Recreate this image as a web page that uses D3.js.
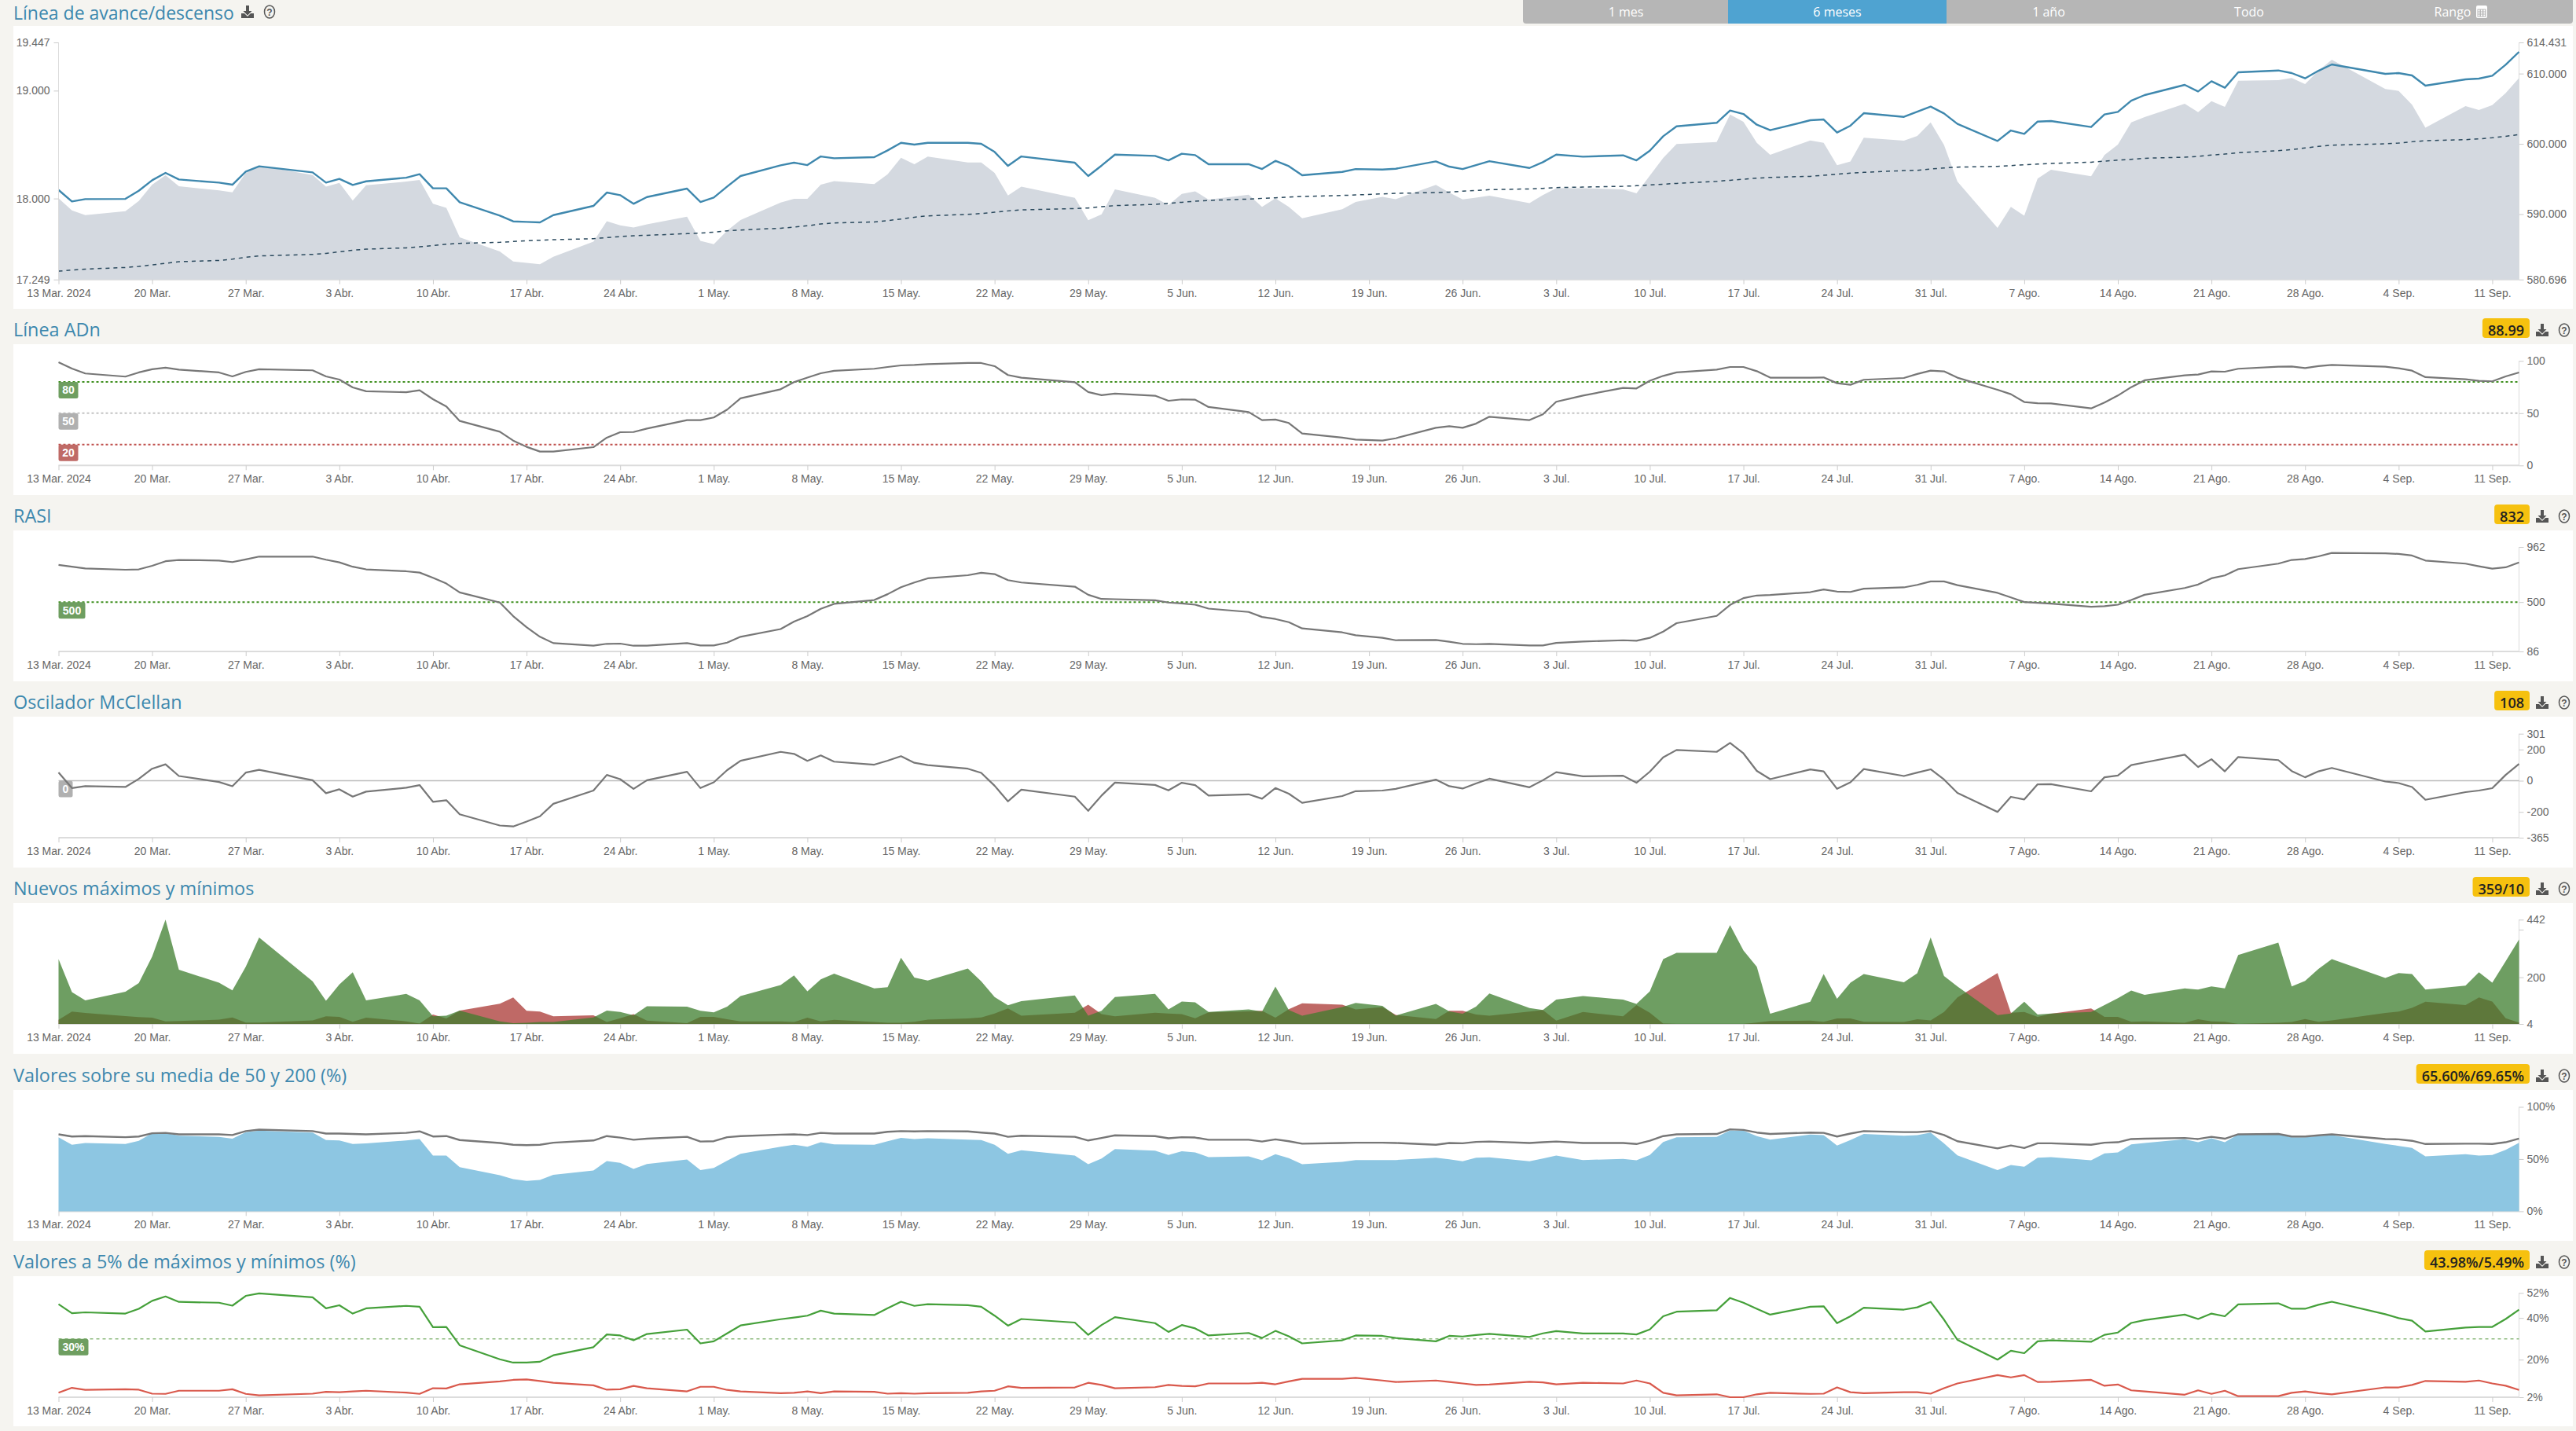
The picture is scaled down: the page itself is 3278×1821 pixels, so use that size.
<!DOCTYPE html>
<html><head><meta charset="utf-8"><title>Amplitud de mercado</title>
<script src="https://cdn.jsdelivr.net/npm/d3@7"></script>
<style>
html,body{margin:0;padding:0;background:#f5f4f0;overflow:hidden}
svg{display:block}
text{font-family:"Liberation Sans",Arial,sans-serif}
.title{font-family:"Open Sans",sans-serif;font-size:23.4px;fill:#3d88ae}
.tick text{font-size:14px;fill:#666}
.badge{font-family:"Open Sans",sans-serif;font-size:18px;font-weight:600;fill:#222}
.tag{font-size:14px;font-weight:700;fill:#fff}
.range{font-family:"Open Sans",sans-serif;font-size:16px;fill:#fff}
</style></head><body><div id="chart"></div>
<script>
const tradingDays = ["03-13","03-14","03-15","03-18","03-19","03-20","03-21","03-22","03-25","03-26","03-27","03-28",
"04-01","04-02","04-03","04-04","04-05","04-08","04-09","04-10","04-11","04-12","04-15","04-16","04-17","04-18","04-19","04-22","04-23","04-24","04-25","04-26","04-29","04-30",
"05-01","05-02","05-03","05-06","05-07","05-08","05-09","05-10","05-13","05-14","05-15","05-16","05-17","05-20","05-21","05-22","05-23","05-24","05-28","05-29","05-30","05-31",
"06-03","06-04","06-05","06-06","06-07","06-10","06-11","06-12","06-13","06-14","06-17","06-18","06-20","06-21","06-24","06-25","06-26","06-27","06-28",
"07-01","07-02","07-03","07-05","07-08","07-09","07-10","07-11","07-12","07-15","07-16","07-17","07-18","07-19","07-22","07-23","07-24","07-25","07-26","07-29","07-30","07-31",
"08-01","08-02","08-05","08-06","08-07","08-08","08-09","08-12","08-13","08-14","08-15","08-16","08-19","08-20","08-21","08-22","08-23","08-26","08-27","08-28","08-29","08-30",
"09-03","09-04","09-05","09-06","09-09","09-10","09-11","09-12","09-13"];

// Línea de avance/descenso (thousands, right axis)
const adLine = [593.44,591.80,592.14,592.17,593.33,594.82,595.87,594.93,594.49,594.19,596.05,596.80,
595.94,594.49,595.01,594.15,594.67,595.19,595.68,593.67,593.67,591.69,589.79,588.97,588.89,588.82,589.86,591.17,593.07,592.70,591.47,592.43,593.63,591.73,
592.36,593.93,595.42,596.95,597.32,596.98,598.21,597.95,598.10,599.07,600.15,599.89,600.15,600.15,600.00,598.85,596.87,598.21,597.32,595.42,596.91,598.47,
598.29,597.65,598.59,598.40,597.10,597.10,596.42,597.58,596.83,595.53,596.01,596.42,596.35,596.46,597.51,596.76,596.42,596.98,597.54,
596.57,597.39,598.47,598.18,598.36,597.65,599.03,601.08,602.50,602.99,604.74,604.25,602.72,601.94,603.36,603.47,601.61,602.58,604.36,603.84,604.59,605.30,
604.33,602.84,600.41,601.90,601.42,603.17,603.25,602.39,604.18,604.55,606.15,606.94,608.39,607.46,608.91,607.98,610.18,610.44,610.07,609.32,610.40,611.30,
609.96,610.07,609.73,608.28,609.17,609.29,609.70,611.26,613.09];
const adAverage = [581.89,582.04,582.18,582.41,582.56,582.78,583.00,583.23,583.41,583.60,583.86,584.05,
584.27,584.42,584.64,584.87,585.02,585.20,585.35,585.54,585.73,585.84,585.99,586.10,586.21,586.29,586.36,586.51,586.66,586.81,586.92,586.99,587.22,587.29,
587.44,587.63,587.74,588.00,588.15,588.34,588.60,588.74,588.89,589.08,589.30,589.56,589.75,589.97,590.09,590.27,590.46,590.61,590.79,590.87,591.06,591.21,
591.39,591.54,591.69,591.84,591.95,592.14,592.25,592.32,592.43,592.51,592.66,592.73,592.88,592.96,593.07,593.14,593.26,593.37,593.48,
593.59,593.67,593.78,593.85,593.96,594.04,594.15,594.26,594.37,594.67,594.82,594.97,595.12,595.23,595.38,595.53,595.68,595.83,595.94,596.20,596.24,596.42,
596.57,596.69,596.80,596.91,597.02,597.13,597.21,597.39,597.54,597.69,597.80,597.95,598.10,598.21,598.40,598.55,598.74,599.03,599.18,599.41,599.63,599.82,
600.00,600.11,600.30,600.45,600.60,600.71,600.86,601.08,601.31];
// Índice (left axis)
const indexArea = [18002,17890,17846,17883,17977,18128,18215,18113,18075,18058,18237,18305,
18218,18111,18145,17980,18123,18157,18172,17951,17914,17640,17509,17416,17404,17390,17460,17601,17790,17752,17732,17761,17832,17608,
17577,17703,17800,17963,17997,17997,18128,18162,18133,18225,18378,18318,18388,18335,18335,18237,18028,18111,18007,17798,17854,18084,
18007,17939,18043,18067,17990,18036,17922,18002,17922,17817,17900,17968,18016,17994,18126,18055,17992,18009,18026,
17958,18031,18096,18096,18084,18048,18213,18376,18505,18524,18779,18711,18517,18405,18539,18517,18308,18344,18563,18536,18580,18706,
18497,18157,17727,17922,17841,18184,18266,18206,18403,18500,18706,18755,18879,18801,18903,18850,19092,19097,19117,19061,19185,19287,
19015,18998,18869,18657,18857,18820,18866,18978,19117];

const adnLine = [98.7,92.7,88,85,89,92,93.5,91.7,89,85.2,89.5,92,
91,85.2,82.2,74.7,71,70,72,63.4,56.4,42.6,32.3,23.8,17.8,13.3,13.3,17.5,26.6,31.8,32,35.3,43.4,43.4,
45.9,53.4,64.2,72.9,79.7,84,88.2,90.5,92.5,94.2,95.7,96.2,97,98,98,95,86.5,84,79.7,70.2,67.2,68.7,
66.7,61.9,63.2,62.9,55.9,51.1,43.4,43.9,40.6,30.6,26.6,24.8,23.8,26,36,37.6,36,40,46.6,
43.4,48.9,60.9,66.9,74.2,73.7,81,85.7,89,91.7,94.2,94.2,90.2,84,84,84.2,78.7,77.2,82,83.7,87.5,90.7,
90,84,72.4,68.2,60.7,59.6,59.4,54.6,60.2,66.9,74.9,81.5,86.2,87,90,89.7,92.5,94.5,94.7,93.2,95,96.2,
94.5,93,90.7,84.5,82.5,81,80.5,85.2,88.99];

const rasiLine = [811,796,782,771,774,804,842,853,848,835,857,881,
881,855,833,796,774,758,747,704,655,581,496,382,290,209,156,134,150,152,134,134,156,136,
136,160,209,274,336,382,443,485,517,566,625,664,699,725,745,734,684,664,629,561,526,524,
515,496,489,478,445,417,375,358,331,279,246,222,200,180,182,167,150,147,150,
136,136,158,169,180,176,200,252,323,384,476,533,555,559,583,605,588,585,612,623,644,673,
673,642,577,539,500,493,487,460,465,478,517,561,618,647,699,723,776,822,853,861,883,912,
909,903,890,848,822,800,780,791,832];

const mcclellanLine = [53,-47,-35,-40,12,77,105,30,-8,-35,52,70,
3,-80,-55,-102,-70,-45,-28,-135,-125,-215,-287,-293,-262,-228,-148,-63,37,10,-52,3,57,-47,
-10,68,128,185,172,127,162,122,103,128,157,115,100,77,50,-32,-132,-57,-102,-193,-95,-12,
-27,-62,-13,-28,-95,-87,-115,-47,-83,-142,-98,-67,-63,-52,7,-35,-50,-18,13,
-42,3,55,28,32,-13,58,150,197,185,242,175,63,10,72,60,-52,-10,75,30,52,73,
8,-78,-200,-103,-120,-23,-22,-68,22,33,100,117,167,88,138,60,152,132,62,22,60,82,
-5,-15,-40,-122,-73,-63,-48,37,108];

const newHighs = [276,138,103,139,176,287,442,232,177,145,244,367,
183,101,170,221,103,130,103,36,39,60,15,7,9,12,12,31,60,54,40,78,77,59,
53,77,121,167,208,141,191,215,153,158,282,199,186,237,183,117,82,100,124,39,59,117,
130,65,98,95,54,65,56,161,63,39,75,92,80,39,88,57,47,77,132,
71,63,106,121,106,88,141,276,303,303,419,313,244,47,97,214,110,177,214,179,217,367,
205,162,41,48,97,44,48,54,83,112,144,126,153,148,162,153,294,346,162,185,235,276,
197,218,214,148,165,221,177,267,359];
const newLows = [21,56,50,37,33,30,15,16,22,31,10,10,
19,36,34,13,30,15,6,44,27,60,89,115,59,56,36,40,12,28,45,18,7,34,
34,24,15,15,12,30,15,21,12,9,9,13,22,27,31,48,69,39,51,85,45,36,
51,48,45,28,53,57,59,30,66,91,85,65,75,42,25,59,59,44,39,
56,63,18,54,36,83,51,6,4,4,4,4,10,16,18,13,27,27,13,12,24,19,
54,115,218,51,54,34,47,69,34,34,13,15,9,24,15,13,4,9,12,25,13,19,
50,56,72,97,83,115,98,28,10];

const above200 = [73.7,71.6,72.0,70.9,71.6,74.7,75.1,73.7,73.7,73.0,76.8,78.2,
76.8,74.4,74.4,74.0,73.7,75.1,76.5,71.6,72.0,68.2,65.4,63.7,63.3,63.7,65.7,67.8,72.0,70.6,68.5,69.5,71.3,66.8,
67.1,70.9,72.0,73.4,73.7,73.0,75.1,74.4,74.4,76.1,76.8,76.5,76.8,76.5,75.4,74.4,71.3,72.3,71.3,67.8,70.2,72.7,
72.0,69.9,70.9,70.6,68.5,68.5,66.8,68.9,67.1,64.7,65.4,65.7,65.7,65.4,63.7,65.4,65.1,66.4,66.8,
65.4,66.1,66.8,65.4,65.4,64.4,67.5,72.0,73.7,74.0,78.5,77.9,75.4,74.0,75.4,75.1,71.6,74.4,76.8,75.8,75.8,76.8,
73.0,67.1,60.2,63.0,60.6,65.1,65.1,63.7,65.7,66.1,69.2,69.5,70.2,69.2,71.3,69.5,73.7,74.0,71.6,71.6,72.7,73.7,
69.2,68.9,67.5,64.4,64.7,64.7,64.4,66.1,69.65];
const above50 = [70.9,63.7,65.4,64.4,67.5,74.7,75.1,72.3,71.3,69.5,75.8,77.2,
75.4,68.2,67.8,64.4,65.1,67.8,69.2,53.3,53.3,42.2,34.6,30.8,29.1,30.1,34.9,39.1,48.1,46.4,40.5,45.3,49.5,39.4,
41.5,48.4,55.0,61.9,63.7,61.9,66.1,64.0,63.7,67.1,70.2,69.2,69.9,68.5,68.2,63.7,55.0,58.5,53.3,45.0,50.5,59.5,
58.1,54.0,57.4,56.4,51.9,52.6,48.8,54.7,50.9,45.0,47.4,49.1,49.1,49.1,51.2,49.8,47.8,51.2,51.6,
47.8,50.5,53.3,49.1,50.2,48.8,54.0,66.4,70.9,71.3,77.5,77.2,72.0,68.5,73.4,73.0,63.0,68.2,74.0,72.3,73.0,75.4,
65.1,53.6,39.4,44.3,42.6,51.2,51.9,48.8,55.4,56.4,64.0,65.4,68.9,66.1,69.9,66.1,73.7,73.7,70.9,70.9,72.0,73.0,
64.4,62.6,60.6,52.6,54.7,53.3,54.0,58.8,65.60];

const nearHighs = [46.6,42.3,42.7,42.1,44.4,48.2,50.3,47.7,47.3,45.9,50.6,51.8,
49.9,44.6,46.1,42.1,44.6,45.8,45.4,35.6,35.7,26.9,20.2,18.6,18.6,19.0,22.1,26.0,32.1,31.6,29.3,32.3,34.4,27.8,
28.8,32.6,36.4,39.4,40.2,41.1,43.5,42.1,41.4,44.7,47.8,45.8,46.6,46.1,45.4,41.1,36.3,39.5,37.8,31.9,36.6,40.4,
37.5,33.3,36.6,35.0,31.6,32.8,30.4,33.8,31.2,27.8,29.3,31.6,31.4,30.4,28.8,31.4,31.1,31.8,32.4,
30.9,32.6,33.7,32.6,32.6,32.1,34.5,40.8,43.0,43.7,49.6,47.3,44.4,41.6,45.4,45.6,37.5,40.8,44.9,44.0,45.1,47.7,
39.2,29.5,20.0,24.3,23.1,28.8,29.3,28.6,31.9,33.0,37.6,39.0,41.6,39.5,42.1,40.8,46.5,47.0,44.4,44.4,46.3,47.8,
41.8,39.9,38.7,33.5,35.4,35.7,35.7,39.5,43.98];
const nearLows = [4.2,6.5,5.5,5.8,5.6,3.7,3.6,5.1,5.1,5.8,3.6,2.9,
3.7,4.6,4.4,4.8,5.1,4.2,3.6,6.3,6.2,8.2,9.6,10.3,10.5,9.8,8.9,7.7,5.6,5.8,7.4,6.3,4.8,7.0,
7.0,5.5,4.8,3.9,4.1,4.8,3.9,4.8,4.6,3.7,3.9,3.7,3.9,4.1,4.8,5.1,7.2,6.5,6.7,8.9,7.9,6.3,
6.8,7.9,7.4,7.2,8.6,8.6,8.9,8.2,9.6,10.8,10.8,11.3,10.0,9.3,10.0,9.3,8.6,7.9,8.1,
9.4,9.1,8.2,8.9,8.6,10.0,8.6,4.1,2.9,3.4,2,2,3.4,4.1,3.6,3.7,6.7,4.4,3.9,4.4,4.4,3.7,
6.3,8.6,12.6,11.5,12.6,9.3,9.4,10.3,7.5,8.1,5.3,4.8,3.2,5.3,3.6,5.1,2.5,2.5,4.1,4.8,3.9,3.4,
6.7,6.7,7.9,9.8,9.4,10.0,8.6,7.5,5.49];

const monthNames = ["Ene.","Feb.","Mar.","Abr.","May.","Jun.","Jul.","Ago.","Sep.","Oct.","Nov.","Dic."];
const rangeLabels = ["1 mes","6 meses","1 año","Todo","Rango"];
const titles = ["Línea de avance/descenso","Línea ADn","RASI","Oscilador McClellan","Nuevos máximos y mínimos","Valores sobre su media de 50 y 200 (%)","Valores a 5% de máximos y mínimos (%)"];
const badges = [null,"88.99","832","108","359/10","65.60%/69.65%","43.98%/5.49%"];

[adLine,adAverage,indexArea,adnLine,rasiLine,mcclellanLine,newHighs,newLows,above200,above50,nearHighs,nearLows].forEach((a,i)=>{
  if(a.length!==tradingDays.length) throw new Error("series "+i+" has "+a.length+" values, expected "+tradingDays.length);
});

const dates = tradingDays.map(s=>d3.utcParse("%Y-%m-%d")("2024-"+s));
const W=3278,H=1821;
const svg=d3.select("#chart").append("svg").attr("width",W).attr("height",H);
const X0=74.5,X1=3205.5;
const x=d3.scaleUtc().domain([dates[0],dates[dates.length-1]]).range([X0,X1]);
const xTicks=d3.utcDay.range(dates[0],dates[dates.length-1],7);
const fmtX=(d,i)=>d.getUTCDate()+" "+monthNames[d.getUTCMonth()]+(i===0?" 2024":"");

const PANEL_L=17,PANEL_R=3274;
const C_AXIS="#dcdcdc";

function helpIcon(g,cx,cy){
  g.append("ellipse").attr("cx",cx).attr("cy",cy).attr("rx",6.5).attr("ry",8).attr("fill","none").attr("stroke","#555").attr("stroke-width",1.5);
  g.append("text").attr("x",cx).attr("y",cy+4.5).attr("text-anchor","middle").attr("font-size",12).attr("font-weight",700).attr("fill","#555").text("?");
}
function dlIcon(g,cx,cy){
  g.append("path").attr("transform",`translate(${cx},${cy})`).attr("fill","#555")
   .attr("d","M-2,-8H2V-1H5.5L0,4.5L-5.5,-1H-2Z M-8,2H-4L0,6L4,2H8V8H-8Z");
}

function panel(cfg,i){
  const g=svg.append("g");
  g.append("rect").attr("x",PANEL_L).attr("y",cfg.top).attr("width",PANEL_R-PANEL_L).attr("height",cfg.h).attr("fill","#fff");
  const ty=cfg.top-18;
  const t=g.append("text").attr("class","title").attr("x",17).attr("y",ty+8).text(titles[i]);
  if(i===0){
    t.attr("y",24.8).style("font-size","23px");
    dlIcon(g,315,ty); helpIcon(g,343,ty);
  } else {
    dlIcon(g,3235,ty); helpIcon(g,3263,ty);
    const bt=g.append("text").attr("class","badge").attr("x",3212).attr("y",ty+6.5).attr("text-anchor","end").text(badges[i]);
    const bw=bt.node().getComputedTextLength();
    g.insert("rect","text.badge").attr("x",3219-bw-14).attr("y",cfg.top-33).attr("width",bw+14).attr("height",25).attr("rx",4).attr("fill","#f6c10f");
  }
  const y=d3.scaleLinear().domain(cfg.domain).range([cfg.base,cfg.ytop]);
  const xAxis=d3.axisBottom(x).tickValues(xTicks).tickFormat(fmtX).tickSize(6).tickPadding(6);
  const ax=g.append("g").attr("transform",`translate(0,${cfg.base})`).call(xAxis);
  ax.select(".domain").attr("stroke",C_AXIS).attr("stroke-width",2).attr("d",`M${X0},0H${X1}`);
  ax.selectAll(".tick line").attr("stroke","#ccc");
  const ay=g.append("g").attr("transform",`translate(${X1},0)`)
    .call(d3.axisRight(y).tickValues(cfg.ticks).tickFormat(cfg.fmt).tickSize(6).tickPadding(4));
  ay.select(".domain").attr("stroke",C_AXIS).attr("d",`M0,${cfg.ytop}V${cfg.base}`);
  ay.selectAll(".tick line").attr("stroke","#ccc");
  cfg.draw(g,y);
  return g;
}
const line=(y,v)=>d3.line().x((d,i)=>x(dates[i])).y(d=>y(d))(v);
const area=(y,v)=>d3.area().x((d,i)=>x(dates[i])).y0(y.range()[0]).y1(d=>y(d))(v);
function ref(g,y,val,color,dash,w){
  g.append("line").attr("x1",X0).attr("x2",X1).attr("y1",y(val)).attr("y2",y(val)).attr("stroke",color).attr("stroke-width",w||2).attr("stroke-dasharray",dash);
}
function tag(g,y,val,label,color,w){
  g.append("rect").attr("x",X0).attr("y",y(val)).attr("width",w).attr("height",21).attr("rx",2.5).attr("fill",color);
  g.append("text").attr("class","tag").attr("x",X0+w/2).attr("y",y(val)+15.5).attr("text-anchor","middle").text(label);
}
const path=(g,d,color,w,dash)=>g.append("path").attr("d",d).attr("fill","none").attr("stroke",color).attr("stroke-width",w).attr("stroke-linejoin","round").attr("stroke-dasharray",dash||null);
const GREEN="#6e9e60",RED="#bf6a66",GREY="#b0b0b0";

// Panel 1
const yLeft=d3.scaleLinear().domain([17249,19447]).range([355.7,54]);
const yRight=d3.scaleLinear().domain([580.696,614.431]).range([355.7,54]);
panel({top:33,h:360,base:355.7,ytop:54,domain:[580.696,614.431],ticks:[580.696,590,600,610,614.431],fmt:d3.format(".3f"),
 draw(g,y){
  g.append("path").attr("d",area(yLeft,indexArea)).attr("fill","#d4d9e0");
  path(g,line(yRight,adAverage),"#2b4a5e",1.5,"5,5");
  path(g,line(yRight,adLine),"#3f88ae",2.4);
  const l=g.append("g").attr("transform",`translate(${X0},0)`).call(d3.axisLeft(yLeft).tickValues([17249,18000,19000,19447]).tickFormat(d=>(d/1000).toFixed(3)).tickSize(6).tickPadding(5));
  l.select(".domain").attr("stroke",C_AXIS).attr("d",`M0,54V355.7`);
  l.selectAll(".tick line").attr("stroke","#ccc");
 }},0);
// Panel 2
panel({top:438,h:192,base:592.3,ytop:459.3,domain:[0,100],ticks:[0,50,100],fmt:d=>d,
 draw(g,y){
  ref(g,y,80,"#3f8f1f","3,3");ref(g,y,50,"#c4c4c4","3,3");ref(g,y,20,"#c0504d","3,3");
  tag(g,y,80,"80",GREEN,25);tag(g,y,50,"50",GREY,25);tag(g,y,20,"20",RED,25);
  path(g,line(y,adnLine),"#777",2.2);
 }},1);
// Panel 3
panel({top:675,h:192,base:829,ytop:696,domain:[86,962],ticks:[86,500,962],fmt:d=>d,
 draw(g,y){
  ref(g,y,500,"#3f8f1f","3,3");tag(g,y,500,"500",GREEN,34);
  path(g,line(y,rasiLine),"#777",2.2);
 }},2);
// Panel 4
panel({top:912,h:192,base:1066,ytop:933.7,domain:[-365,301],ticks:[-365,-200,0,200,301],fmt:d=>d,
 draw(g,y){
  ref(g,y,0,"#bbb",null,1.6);tag(g,y,0,"0",GREY,18);
  path(g,line(y,mcclellanLine),"#777",2.2);
 }},3);
// Panel 5
panel({top:1149,h:192,base:1303,ytop:1170.3,domain:[4,442],ticks:[4,200,400,442],fmt:d=>d===400?"":d,
 draw(g,y){
  g.append("path").attr("d",area(y,newLows)).attr("fill","#aa3733").attr("fill-opacity",.75);
  g.append("path").attr("d",area(y,newHighs)).attr("fill","#3e7d2d").attr("fill-opacity",.75);
 }},4);
// Panel 6
panel({top:1387,h:192,base:1541.4,ytop:1408.5,domain:[0,100],ticks:[0,50,100],fmt:d=>d+"%",
 draw(g,y){
  g.append("path").attr("d",area(y,above50)).attr("fill","#8dc6e2");
  path(g,line(y,above200),"#777",2.4);
 }},5);
// Panel 7
panel({top:1624,h:191,base:1778,ytop:1645.3,domain:[2,52],ticks:[2,20,40,52],fmt:d=>d+"%",
 draw(g,y){
  ref(g,y,30,"#8fbc80","4,4",1.6);tag(g,y,30,"30%",GREEN,38);
  path(g,line(y,nearHighs),"#45a03a",2.2);
  path(g,line(y,nearLows),"#d9594c",2.2);
 }},6);

// Range selector
const segs=[[1938,2199],[2199,2477],[2477,2737],[2737,2988],[2988,3274]];
const seg=svg.append("g");
seg.append("path").attr("d",`M1938,0H3274V26a4,4 0 0 1 -4,4H1942a4,4 0 0 1 -4,-4Z`).attr("fill","#b6b6b6");
seg.append("rect").attr("x",segs[1][0]).attr("y",0).attr("width",segs[1][1]-segs[1][0]).attr("height",30).attr("fill","#4fa3d1");
const labelX=[2069,2338,2607,2862,3121];
rangeLabels.forEach((s,i)=>seg.append("text").attr("class","range").attr("x",labelX[i]).attr("y",20.5).attr("text-anchor","middle").text(s));
const cal=seg.append("g").attr("transform","translate(3158,15)");
cal.append("rect").attr("x",-7).attr("y",-8).attr("width",14).attr("height",16).attr("rx",2).attr("fill","#fff");
cal.append("rect").attr("x",-5.5).attr("y",-3.5).attr("width",11).attr("height",10).attr("fill","#b6b6b6");
d3.range(3).forEach(r=>d3.range(3).forEach(c=>cal.append("rect").attr("x",-4.5+c*3.4).attr("y",-2.5+r*3).attr("width",2).attr("height",2).attr("fill","#fff")));
</script></body></html>
